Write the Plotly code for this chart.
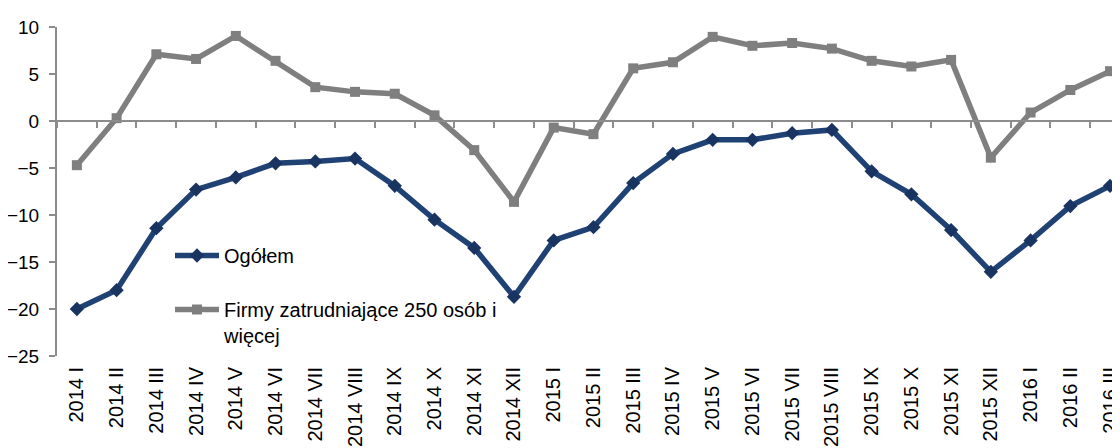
import plotly.graph_objects as go

categories = ["2014 I", "2014 II", "2014 III", "2014 IV", "2014 V", "2014 VI", "2014 VII",
              "2014 VIII", "2014 IX", "2014 X", "2014 XI", "2014 XII",
              "2015 I", "2015 II", "2015 III", "2015 IV", "2015 V", "2015 VI", "2015 VII",
              "2015 VIII", "2015 IX", "2015 X", "2015 XI", "2015 XII",
              "2016 I", "2016 II", "2016 III"]

ogolem = [-20.0, -18.0, -11.4, -7.3, -6.0, -4.5, -4.3, -4.0, -6.9, -10.5, -13.5, -18.7,
          -12.7, -11.3, -6.6, -3.5, -2.0, -2.0, -1.3, -0.95, -5.35, -7.8, -11.6, -16.05,
          -12.7, -9.05, -6.9]

firmy250 = [-4.7, 0.3, 7.1, 6.6, 9.05, 6.4, 3.6, 3.1, 2.9, 0.6, -3.1, -8.6,
            -0.7, -1.4, 5.6, 6.25, 8.95, 8.0, 8.3, 7.7, 6.4, 5.8, 6.5, -3.9,
            0.9, 3.3, 5.3]

name_ogolem = "Ogółem"
name_firmy = "Firmy zatrudniające 250 osób i<br>więcej"

y_ticks = [10, 5, 0, -5, -10, -15, -20, -25]

BLUE = "#1f4173"
BLUE_M = "#1a3461"
GRAY = "#7f7f7f"
AXIS = "#8c8c8c"
FONT = "Liberation Sans, Arial, sans-serif"

# page body has an 8px default margin; the figure is sized so the plot area
# lands at screen x 57..1120, y 27..356
OFF = 8
PL, PT, PR, PB = 57, 27, 1120, 356
W, H = 1120 - OFF, 448 - OFF

fig = go.Figure()
fig.add_trace(go.Scatter(
    x=categories, y=firmy250, name=name_firmy, mode="lines+markers",
    line=dict(color=GRAY, width=5.5), marker=dict(symbol="square", size=10, color=GRAY),
    xaxis="x2", yaxis="y", legend="legend2", showlegend=True))
fig.add_trace(go.Scatter(
    x=categories, y=ogolem, name=name_ogolem, mode="lines+markers",
    line=dict(color=BLUE, width=5.5), marker=dict(symbol="diamond", size=11, color=BLUE_M),
    xaxis="x", yaxis="y", legend="legend", showlegend=True))

fig.update_layout(
    width=W, height=H,
    margin=dict(l=PL - OFF, r=W - (PR - OFF), t=PT - OFF, b=H - (PB - OFF)),
    paper_bgcolor="white", plot_bgcolor="white",
    font=dict(family=FONT, size=18, color="black"),
    showlegend=True,
    xaxis=dict(
        type="category", categoryorder="array", categoryarray=categories,
        range=[-0.5, 26.25], showgrid=False, zeroline=False, showline=False,
        tickmode="linear", tick0=0, dtick=1, automargin=False,
        ticks="outside", ticklen=2, tickcolor="rgba(0,0,0,0)",
        tickangle=-90, tickfont=dict(size=20, family=FONT, color="black"),
    ),
    xaxis2=dict(
        type="category", matches="x", overlaying="x", anchor="free",
        position=25 / 35, side="bottom", automargin=False,
        tickmode="linear", tick0=0, dtick=1,
        showgrid=False, zeroline=False, showline=True, linecolor=AXIS, linewidth=2,
        ticks="outside", tickson="boundaries", ticklen=6, tickwidth=1.5, tickcolor=AXIS,
        showticklabels=False,
    ),
    yaxis=dict(
        range=[-25, 10], tickvals=y_ticks, showgrid=False, zeroline=False,
        showline=True, linecolor=AXIS, linewidth=2, automargin=False,
        ticks="outside", ticklen=6, tickwidth=1.5, tickcolor=AXIS,
        ticklabelstandoff=6,
        tickfont=dict(size=19, family=FONT, color="black"),
    ),
    legend=dict(
        visible=True,
        x=(170 - PL) / (PR - PL), y=(PB - 236) / (PB - PT),
        xanchor="left", yanchor="top", bgcolor="rgba(0,0,0,0)", itemwidth=44,
        font=dict(size=20, family=FONT, color="black"),
    ),
    legend2=dict(
        visible=True,
        x=(170 - PL) / (PR - PL), y=(PB - 290) / (PB - PT),
        xanchor="left", yanchor="top", bgcolor="rgba(0,0,0,0)", valign="top", itemwidth=44,
        font=dict(size=20, family=FONT, color="black"),
    ),
)

fig.write_html("out.html")
